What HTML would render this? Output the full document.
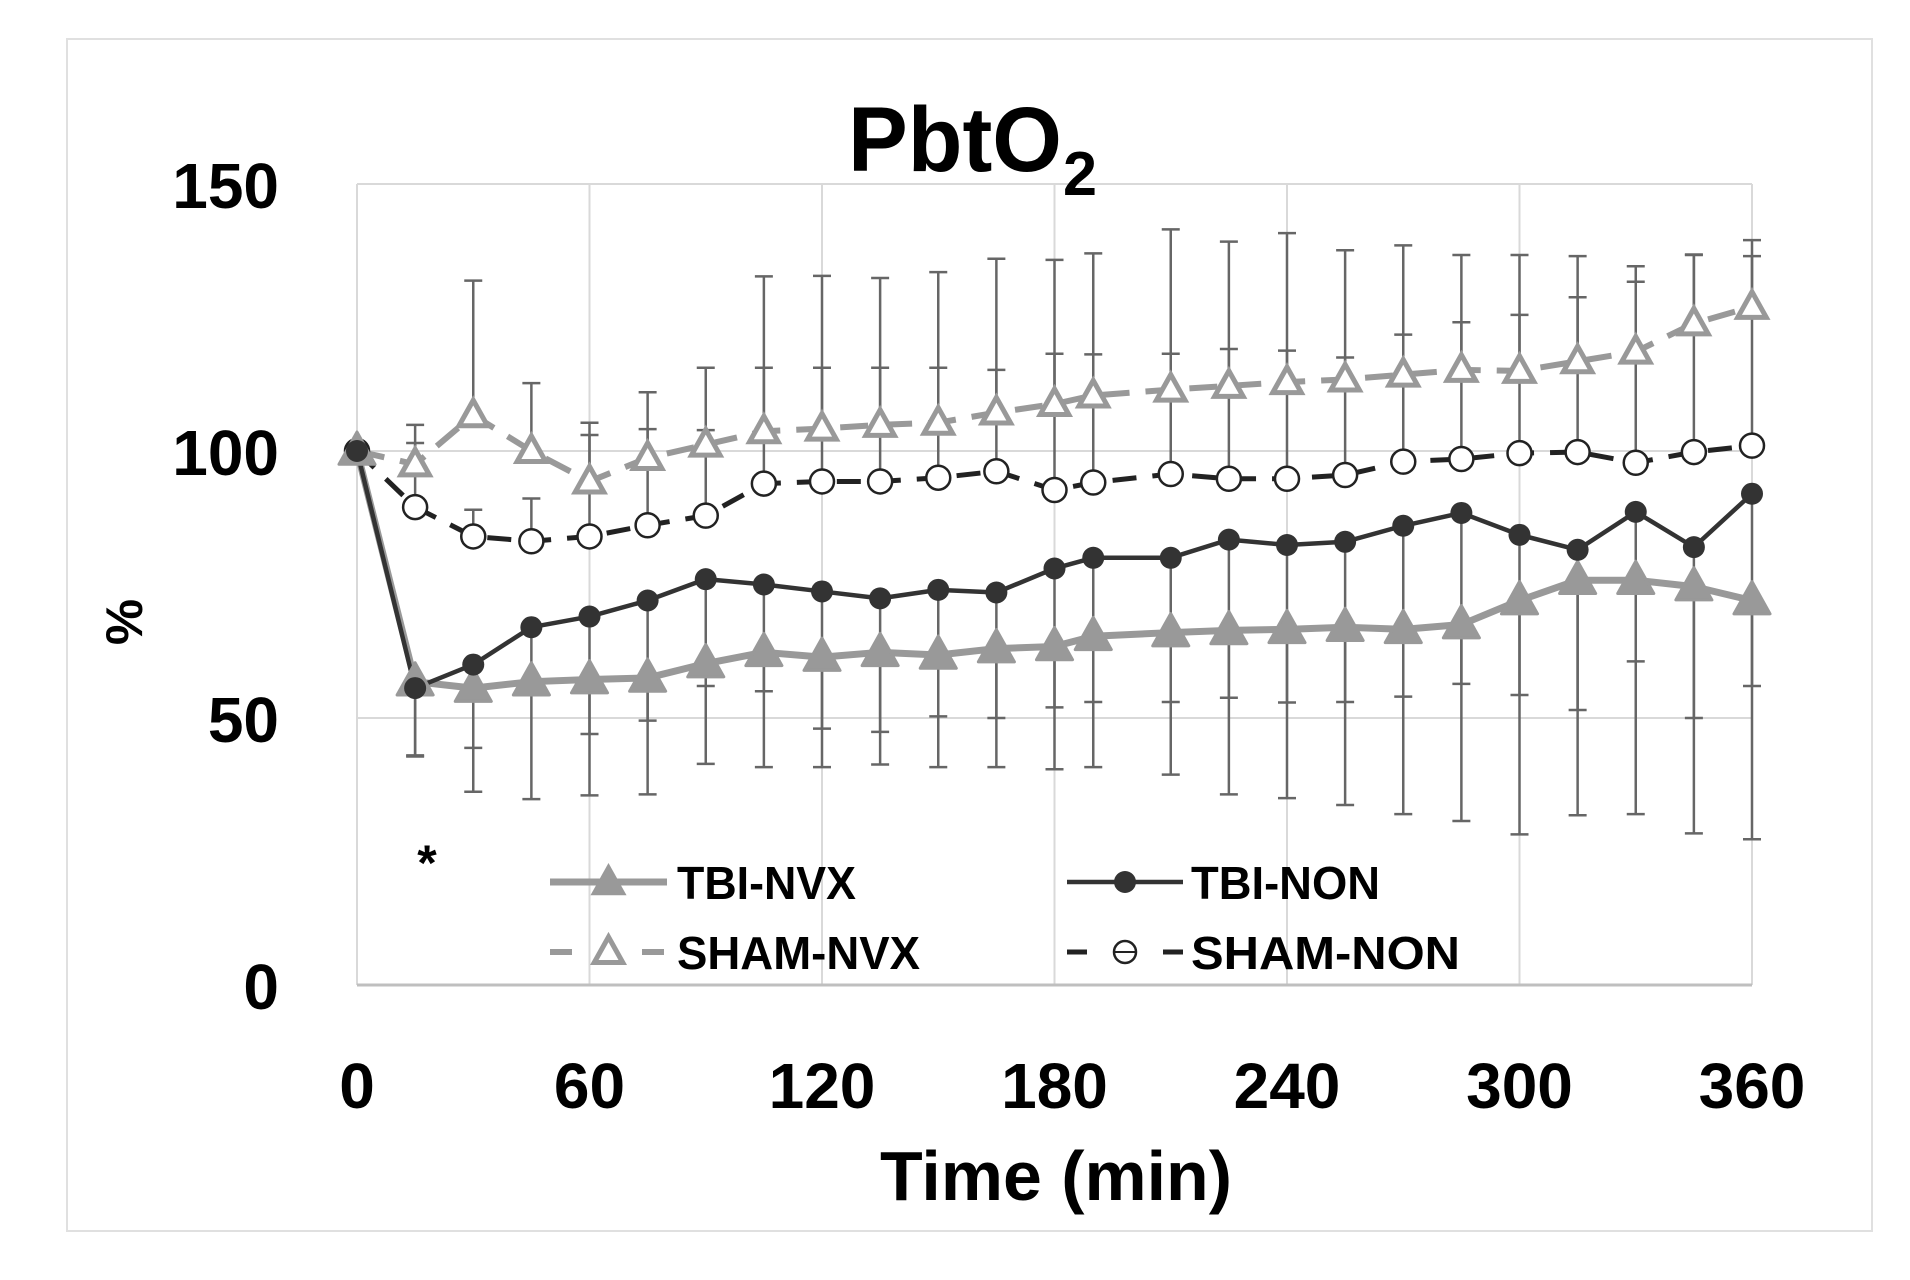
<!DOCTYPE html>
<html><head><meta charset="utf-8"><style>
html,body{margin:0;padding:0;background:#fff;}
svg text{font-family:"Liberation Sans",sans-serif;font-weight:bold;fill:#000;}
</style></head><body>
<svg id="chart" width="1910" height="1275" viewBox="0 0 1910 1275" xmlns="http://www.w3.org/2000/svg">
<rect x="67" y="39" width="1805" height="1192" fill="#fff" stroke="#e0e0e0" stroke-width="2"/>
<g id="grid"></g>
<g id="errs"></g>
<g id="series"></g>
<g id="axes"></g>
<text x="848" y="171" font-size="92" textLength="214" lengthAdjust="spacingAndGlyphs">PbtO</text>
<text x="1063" y="195" font-size="62" textLength="34" lengthAdjust="spacingAndGlyphs">2</text>
<text x="880" y="1200" font-size="70" textLength="352" lengthAdjust="spacingAndGlyphs">Time (min)</text>
<text transform="translate(142,622) rotate(-90)" text-anchor="middle" font-size="52">%</text>
<text x="427" y="880" text-anchor="middle" font-size="50">*</text>
<g id="legend"></g>
</svg>
<script>
const times=[0,15,30,45,60,75,90,105,120,135,150,165,180,190,210,225,240,255,270,285,300,315,330,345,360];
const tbiNon=[100,55.6,60,67,69,72,76,75,73.7,72.4,74,73.5,78,80,80,83.4,82.4,83,86,88.4,84.3,81.5,88.6,82,92];
const tbiNvx=[100,56.8,55.6,56.8,57.2,57.5,60.2,62.3,61.4,62.3,61.8,63,63.4,65.3,66,66.4,66.6,67,66.6,67.5,72,75.8,75.8,74.6,72];
const shamNvx=[100,97.5,106.7,100,94.3,98.7,101.2,103.7,104.2,104.9,105.3,107.2,108.8,110.4,111.5,112.2,112.9,113.4,114.3,115.2,115,116.8,118.6,123.9,127];
const shamNon=[100,89.5,84,83.1,84,86.1,87.9,93.9,94.3,94.3,95,96.2,92.7,94.1,95.7,94.8,94.8,95.5,98,98.5,99.6,99.8,97.8,99.8,101];
const tbiNvxSd=[0,14,19.4,22,21.7,21.8,18.8,21.5,20.6,21,21,22.2,23,24.5,26.6,30.7,31.6,33.3,34.6,36.8,43.8,44,43.8,46.2,44.7];
const tbiNonSd=[0,12.6,15.6,12,22,22.5,20,20,25.7,25,23.7,23.5,26,27,27,29.6,29.5,30,32,32,30,30,28,32,36];
const shamNvxSd=[0,7.4,25.2,12.7,11,12.3,14.4,29,28.6,27.5,28.2,28.8,27,26.6,30,27,27.9,24.2,24.2,21.5,21.7,19.7,16,12.8,12.5];
const shamNonSd=[0,12,5,8,19,18,16,21.7,21.3,21.3,20.6,19,25.5,24,22.5,24.3,24,22,23.8,25.6,25.9,29,33.9,37,35.5];
const yTicks=[0,50,100,150];
const xTicks=[0,60,120,180,240,300,360];

const NS="http://www.w3.org/2000/svg";
const X=t=>357+t*(1752-357)/360;
const Y=v=>985-v*(985-184)/150;
function mk(tag,attrs,parent){const e=document.createElementNS(NS,tag);for(const k in attrs)e.setAttribute(k,attrs[k]);parent.appendChild(e);return e;}
const grid=document.getElementById('grid'),errs=document.getElementById('errs'),ser=document.getElementById('series'),axes=document.getElementById('axes'),leg=document.getElementById('legend');

yTicks.forEach(v=>{
  const l=mk('line',{x1:357,x2:1752,y1:Y(v),y2:Y(v),stroke:'#d9d9d9','stroke-width':2},grid);
  
  
  const t=mk('text',{x:279,y:Y(v)+24,'text-anchor':'end','font-size':64},axes);
  t.textContent=v;
  
  
});
xTicks.forEach(v=>{
  const l=mk('line',{x1:X(v),x2:X(v),y1:184,y2:985,stroke:'#d9d9d9','stroke-width':2},grid);
  
  
  const t=mk('text',{x:X(v),y:1108,'text-anchor':'middle','font-size':64},axes);
  t.textContent=v;
  
  
});
const ax=mk('line',{x1:357,x2:1752,y1:985,y2:985,stroke:'#bfbfbf','stroke-width':3},axes);



function errBars(vals,sd,dir){
  vals.forEach((v,i)=>{
    if(!sd[i])return;
    const x=X(times[i]),y1=Y(v),y2=Y(v+dir*sd[i]);
    const g=mk('g',{},errs);
    
    
    mk('line',{x1:x,x2:x,y1:y1,y2:y2,stroke:'#666','stroke-width':2.5},g);
    mk('line',{x1:x-9,x2:x+9,y1:y2,y2:y2,stroke:'#666','stroke-width':2.5},g);
  });
}
errBars(tbiNvx,tbiNvxSd,-1);
errBars(tbiNon,tbiNonSd,-1);
errBars(shamNvx,shamNvxSd,1);
errBars(shamNon,shamNonSd,1);

function tri(x,y,s){return `${x},${y-s} ${x+s*0.95},${y+s*0.7} ${x-s*0.95},${y+s*0.7}`;}
function line(vals,color,w,dash,name){
  const pts=vals.map((v,i)=>X(times[i])+','+Y(v)).join(' ');
  const p=mk('polyline',{points:pts,fill:'none',stroke:color,'stroke-width':w,'stroke-dasharray':dash||'none','stroke-linejoin':'round'},ser);
  
  
}
line(shamNvx,'#999',6,'28 16','sham-nvx-line');
line(shamNon,'#222',5,'24 16','sham-non-line');
line(tbiNvx,'#999',7,null,'tbi-nvx-line');
line(tbiNon,'#333',4.5,null,'tbi-non-line');
shamNvx.forEach((v,i)=>{
  const m=mk('polygon',{points:tri(X(times[i]),Y(v),15),fill:'#fff',stroke:'#999','stroke-width':5},ser);
  
  
});
shamNon.forEach((v,i)=>{
  const m=mk('circle',{cx:X(times[i]),cy:Y(v),r:12,fill:'#fff',stroke:'#222','stroke-width':2.5},ser);
  
  
});
tbiNvx.forEach((v,i)=>{
  const m=mk('polygon',{points:tri(X(times[i]),Y(v),19),fill:'#999',stroke:'#999','stroke-width':3,'stroke-linejoin':'round'},ser);
  
  
});
tbiNon.forEach((v,i)=>{
  const m=mk('circle',{cx:X(times[i]),cy:Y(v),r:11,fill:'#333'},ser);
  
  
});

function legItem(x1,x2,y,tx,label,tw,kind,name){
  const g=mk('g',{},leg);
  
  
  const cx=(x1+x2)/2;
  if(kind==='tbiNvx'){mk('line',{x1:x1,x2:x2,y1:y,y2:y,stroke:'#999','stroke-width':7},g);mk('polygon',{points:tri(cx,y,19),fill:'#999'},g);}
  if(kind==='tbiNon'){mk('line',{x1:x1,x2:x2,y1:y,y2:y,stroke:'#333','stroke-width':4.5},g);mk('circle',{cx:cx,cy:y,r:11,fill:'#333'},g);}
  if(kind==='shamNvx'){mk('line',{x1:x1,x2:x2,y1:y,y2:y,stroke:'#999','stroke-width':6,'stroke-dasharray':'22 70'},g);mk('polygon',{points:tri(cx,y,15),fill:'#fff',stroke:'#999','stroke-width':5},g);}
  if(kind==='shamNon'){mk('line',{x1:x1,x2:x2,y1:y,y2:y,stroke:'#222','stroke-width':5,'stroke-dasharray':'20 76'},g);mk('circle',{cx:cx,cy:y,r:11,fill:'#fff',stroke:'#222','stroke-width':2.5},g);mk('line',{x1:cx-11,x2:cx+11,y1:y,y2:y,stroke:'#222','stroke-width':2},g);}
  const t=mk('text',{x:tx,y:y+17,'font-size':46,textLength:tw,lengthAdjust:'spacingAndGlyphs'},g);
  t.textContent=label;
}
legItem(550,667,882,677,'TBI-NVX',179,'tbiNvx','legend-tbi-nvx');
legItem(1067,1183,882,1191,'TBI-NON',189,'tbiNon','legend-tbi-non');
legItem(550,667,952,677,'SHAM-NVX',243,'shamNvx','legend-sham-nvx');
legItem(1067,1183,952,1191,'SHAM-NON',269,'shamNon','legend-sham-non');
</script>
</body></html>
